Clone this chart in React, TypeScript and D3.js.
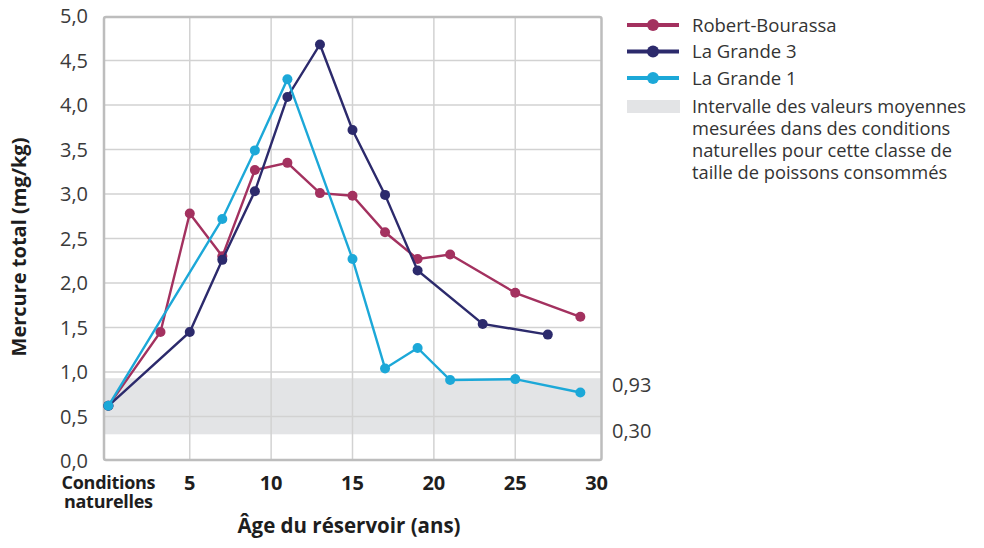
import React from "react";
import * as d3 from "d3";

const seriesNames = ["Robert-Bourassa", "La Grande 3", "La Grande 1"];
const seriesColors = ["#a3315f", "#2c2a6c", "#1ca8d8"];

const rbX = [0, 3.2, 5, 7, 9, 11, 13, 15, 17, 19, 21, 25, 29];
const rbY = [0.62, 1.45, 2.78, 2.3, 3.27, 3.35, 3.01, 2.98, 2.57, 2.27, 2.32, 1.89, 1.62];

const lg3X = [0, 5, 7, 9, 11, 13, 15, 17, 19, 23, 27];
const lg3Y = [0.62, 1.45, 2.26, 3.03, 4.09, 4.68, 3.72, 2.99, 2.14, 1.54, 1.42];

const lg1X = [0, 7, 9, 11, 15, 17, 19, 21, 25, 29];
const lg1Y = [0.62, 2.72, 3.49, 4.29, 2.27, 1.04, 1.27, 0.91, 0.92, 0.77];

const bandLow = 0.3;
const bandHigh = 0.93;

const yTicks = [0, 0.5, 1, 1.5, 2, 2.5, 3, 3.5, 4, 4.5, 5];
const xTicks = [5, 10, 15, 20, 25, 30];
const xGrid = [5, 10, 15, 20, 25];
const naturalLabel = ["Conditions", "naturelles"];
const xTitle = "Âge du réservoir (ans)";
const yTitle = "Mercure total (mg/kg)";
const bandLegend = [
  "Intervalle des valeurs moyennes",
  "mesurées dans des conditions",
  "naturelles pour cette classe de",
  "taille de poissons consommés",
];

const FONT = "'Open Sans', sans-serif";

export default function App() {
  const left = 104, right = 601.5, top = 16, bottom = 461;
  const x = d3.scaleLinear().domain([-0.27, 30.3]).range([left, right]);
  const y = d3.scaleLinear().domain([0, 5]).range([bottom, top]);
  const fmt = (v: number) => d3.format(".1f")(v).replace(".", ",");
  const fmt2 = (v: number) => d3.format(".2f")(v).replace(".", ",");

  const series = [
    { xs: rbX, ys: rbY },
    { xs: lg3X, ys: lg3Y },
    { xs: lg1X, ys: lg1Y },
  ];
  const line = d3
    .line<[number, number]>()
    .x((d) => x(d[0]))
    .y((d) => y(d[1]));

  const plotTop = 17;
  const plotBottom = 460;

  return (
    <svg
      width={984}
      height={548}
      style={{ position: "absolute", left: 0, top: 0, background: "#fff" }}
      fontFamily={FONT}
    >
      <rect
        x={left}
        y={y(bandHigh)}
        width={right - left}
        height={y(bandLow) - y(bandHigh)}
        fill="#e3e4e6"
      />
      {yTicks
        .filter((t) => t > 0 && t < 5)
        .map((t) => (
          <line key={"h" + t} x1={left} x2={right} y1={y(t)} y2={y(t)} stroke="#d2d2d2" strokeWidth={1.5} />
        ))}
      {xGrid.map((t) => (
        <line key={"v" + t} x1={x(t)} x2={x(t)} y1={plotTop} y2={plotBottom} stroke="#d2d2d2" strokeWidth={1.5} />
      ))}
      <rect
        x={left}
        y={plotTop}
        width={right - left}
        height={plotBottom - plotTop}
        fill="none"
        stroke="#bdbdbd"
        strokeWidth={2.5}
        rx={2}
      />
      {series.map((s, i) => {
        const pts: [number, number][] = s.xs.map((v, j) => [v, s.ys[j]]);
        return (
          <g key={i}>
            <path d={line(pts) || ""} fill="none" stroke={seriesColors[i]} strokeWidth={2.4} />
            {pts.map((p, j) => (
              <circle key={j} cx={x(p[0])} cy={y(p[1])} r={5} fill={seriesColors[i]} />
            ))}
          </g>
        );
      })}
      {yTicks.map((t) => (
        <text
          key={"yl" + t}
          x={88}
          y={y(t)}
          dy="0.36em"
          textAnchor="end"
          fontSize={20}
          fill="#3a3a3a"
        >
          {fmt(t)}
        </text>
      ))}
      {xTicks.map((t) => (
        <text
          key={"xl" + t}
          x={x(t)}
          y={490}
          textAnchor="middle"
          fontSize={20}
          fontWeight="bold"
          fill="#1e1e1e"
        >
          {t}
        </text>
      ))}
      {naturalLabel.map((s, i) => (
        <text
          key={"nl" + i}
          x={x(0)}
          y={489 + i * 19}
          textAnchor="middle"
          fontSize={18}
          fontWeight="bold"
          fill="#1e1e1e"
          letterSpacing={-0.3}
        >
          {s}
        </text>
      ))}
      <text x={349} y={533} textAnchor="middle" fontSize={20.5} fontWeight="bold" fill="#1e1e1e">
        {xTitle}
      </text>
      <text
        transform={`translate(26,${247}) rotate(-90)`}
        textAnchor="middle"
        fontSize={20}
        fontWeight="bold"
        fill="#1e1e1e"
      >
        {yTitle}
      </text>
      <text x={612} y={y(bandHigh) + 7} dy="0.36em" fontSize={20} fill="#3a3a3a">
        {fmt2(bandHigh)}
      </text>
      <text x={612} y={y(bandLow) - 4} dy="0.36em" fontSize={20} fill="#3a3a3a">
        {fmt2(bandLow)}
      </text>
      {seriesNames.map((n, i) => {
        const ly = 25 + i * 26.5;
        return (
          <g key={"lg" + i}>
            <line x1={627} x2={679} y1={ly} y2={ly} stroke={seriesColors[i]} strokeWidth={4} />
            <circle cx={653} cy={ly} r={6} fill={seriesColors[i]} />
            <text x={692} y={ly} dy="0.36em" fontSize={18.5} fill="#333">
              {n}
            </text>
          </g>
        );
      })}
      <rect x={627} y={100} width={53} height={13} fill="#e3e4e6" />
      {bandLegend.map((s, i) => (
        <text key={"bl" + i} x={692} y={106 + i * 22.3} dy="0.36em" fontSize={18.3} fill="#333">
          {s}
        </text>
      ))}
    </svg>
  );
}
